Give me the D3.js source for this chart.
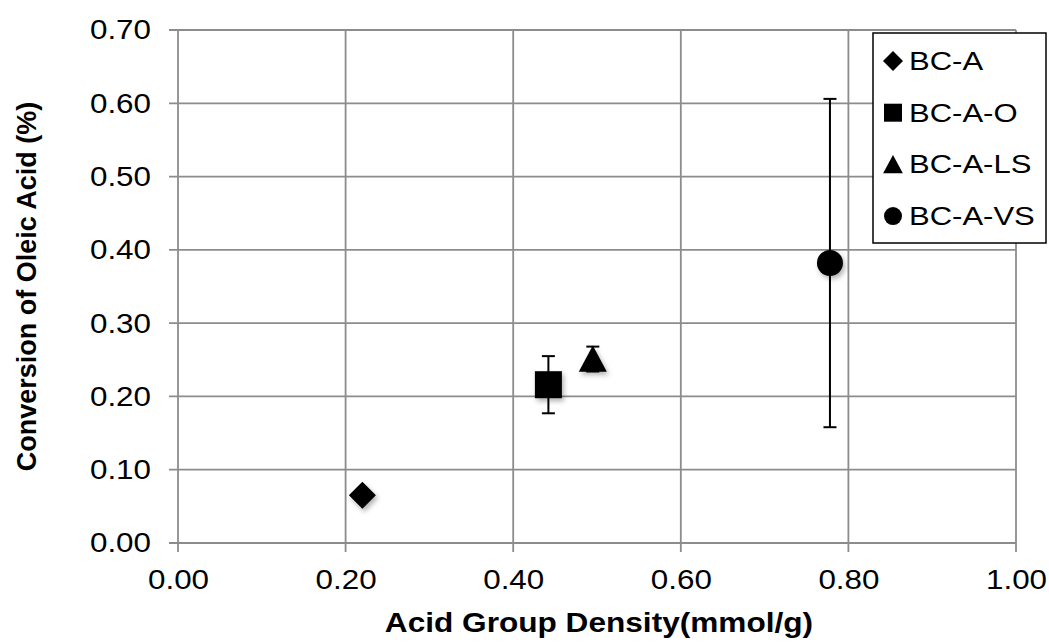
<!DOCTYPE html>
<html>
<head>
<meta charset="utf-8">
<script src="https://cdn.jsdelivr.net/npm/d3@7"></script>
<style>
body { margin: 0; background: #fff; }
text { font-family: "Liberation Sans", Arial, sans-serif; fill: #000; }
</style>
</head>
<body>
<svg class="chart"></svg>
<script>
let names = ["BC-A", "BC-A-O", "BC-A-LS", "BC-A-VS"];
let density = [0.22, 0.442, 0.495, 0.778];
let conversion = [0.065, 0.216, 0.251, 0.382];
let errors = [0, 0.039, 0.017, 0.224];
let xTicks = [0, 0.2, 0.4, 0.6, 0.8, 1.0];
let yTicks = [0, 0.1, 0.2, 0.3, 0.4, 0.5, 0.6, 0.7];

let svgWidth = 1049, svgHeight = 642;
let margin = {left: 178, top: 30, right: 33, bottom: 99};

// triangle centred on its bounding box, like the spreadsheet marker
let boxTriangle = {
    draw: function (ctx, size) {
        let s = Math.sqrt(size);
        ctx.moveTo(0, -s * 0.5);
        ctx.lineTo(s * 0.52, s * 0.47);
        ctx.lineTo(-s * 0.52, s * 0.47);
        ctx.closePath();
    }
};
let boxDiamond = {
    draw: function (ctx, size) {
        let h = Math.sqrt(size) / 2;
        ctx.moveTo(0, -h);
        ctx.lineTo(h, 0);
        ctx.lineTo(0, h);
        ctx.lineTo(-h, 0);
        ctx.closePath();
    }
};
let shapes = [boxDiamond, d3.symbolSquare, boxTriangle, d3.symbolCircle];

// stretch text a bit wider, the original is drawn wide
function widen(sel, f) {
    sel.each(function () {
        let w = this.getComputedTextLength();
        d3.select(this).attr("textLength", w * f).attr("lengthAdjust", "spacingAndGlyphs");
    });
}

let svg = d3.select('.chart')
    .attr("width", svgWidth)
    .attr("height", svgHeight);

let filter = svg.append("defs").append("filter").attr("id", "shadow")
    .attr("x", "-50%").attr("y", "-50%").attr("width", "200%").attr("height", "200%");
filter.append("feDropShadow")
    .attr("dx", 2).attr("dy", 3).attr("stdDeviation", 2.5)
    .attr("flood-color", "#000").attr("flood-opacity", 0.3);

let x = d3.scaleLinear().domain([0, 1]).range([margin.left, svgWidth - margin.right]);
let y = d3.scaleLinear().domain([0, 0.7]).range([svgHeight - margin.bottom, margin.top]);

// gridlines (with the small outside ticks)
svg.append("g").selectAll("line").data(xTicks).enter().append("line")
    .attr("x1", d => x(d)).attr("x2", d => x(d))
    .attr("y1", y(0.7)).attr("y2", y(0) + 9)
    .attr("stroke", "#8c8c8c").attr("stroke-width", 1.8);
svg.append("g").selectAll("line").data(yTicks).enter().append("line")
    .attr("x1", x(0) - 9).attr("x2", x(1))
    .attr("y1", d => y(d)).attr("y2", d => y(d))
    .attr("stroke", "#8c8c8c").attr("stroke-width", 1.8);

// tick labels
let xAxis = svg.append("g")
    .attr("transform", "translate(0," + y(0) + ")")
    .call(d3.axisBottom(x).tickValues(xTicks).tickFormat(d3.format(".2f")).tickSize(0).tickPadding(26));
let yAxis = svg.append("g")
    .attr("transform", "translate(" + x(0) + ",0)")
    .call(d3.axisLeft(y).tickValues(yTicks).tickFormat(d3.format(".2f")).tickSize(0).tickPadding(27));
[xAxis, yAxis].forEach(a => {
    a.select(".domain").remove();
    a.attr("font-family", null).attr("font-size", null);
    a.selectAll("text").style("font-size", "28px").attr("fill", "#000");
    widen(a.selectAll("text"), 1.12);
});

// axis titles
svg.append("text")
    .attr("x", 599).attr("y", 632)
    .attr("text-anchor", "middle")
    .style("font-size", "27px").style("font-weight", "bold")
    .text("Acid Group Density(mmol/g)")
    .call(widen, 1.17);
svg.append("text")
    .attr("transform", "translate(36," + (y(0) + y(0.7)) / 2 + ") rotate(-90)")
    .attr("text-anchor", "middle")
    .style("font-size", "27px").style("font-weight", "bold")
    .text("Conversion of Oleic Acid (%)");

let points = names.map((n, i) => ({name: n, x: density[i], y: conversion[i], e: errors[i], shape: shapes[i]}));

// error bars
let eb = svg.append("g").selectAll("g").data(points.filter(d => d.e > 0)).enter().append("g")
    .attr("stroke", "#000").attr("stroke-width", 2);
eb.append("line")
    .attr("x1", d => x(d.x)).attr("x2", d => x(d.x))
    .attr("y1", d => y(d.y + d.e)).attr("y2", d => y(d.y - d.e));
eb.append("line")
    .attr("x1", d => x(d.x) - 6.5).attr("x2", d => x(d.x) + 6.5)
    .attr("y1", d => y(d.y + d.e)).attr("y2", d => y(d.y + d.e));
eb.append("line")
    .attr("x1", d => x(d.x) - 6.5).attr("x2", d => x(d.x) + 6.5)
    .attr("y1", d => y(d.y - d.e)).attr("y2", d => y(d.y - d.e));

// markers
let sizes = [729, 729, 729, 531];
svg.append("g").selectAll("path").data(points).enter().append("path")
    .attr("d", (d, i) => d3.symbol().type(d.shape).size(sizes[i])())
    .attr("transform", d => "translate(" + x(d.x) + "," + y(d.y) + ")")
    .attr("fill", "#000")
    .attr("filter", "url(#shadow)");

// legend
let legend = svg.append("g").attr("transform", "translate(873,33)");
legend.append("rect")
    .attr("width", 173).attr("height", 210)
    .attr("fill", "#fff").attr("stroke", "#000").attr("stroke-width", 1.5);
let legendSizes = [400, 324, 360, 255];
let item = legend.selectAll(".item").data(points).enter().append("g")
    .attr("transform", (d, i) => "translate(0," + (37 + i * 51.7) + ")");
item.append("path")
    .attr("d", (d, i) => d3.symbol().type(d.shape).size(legendSizes[i])())
    .attr("transform", "translate(20,-9)")
    .attr("fill", "#000");
item.append("text")
    .attr("x", 36).attr("y", 0)
    .style("font-size", "25px")
    .text(d => d.name)
    .call(widen, 1.24);
</script>
</body>
</html>
